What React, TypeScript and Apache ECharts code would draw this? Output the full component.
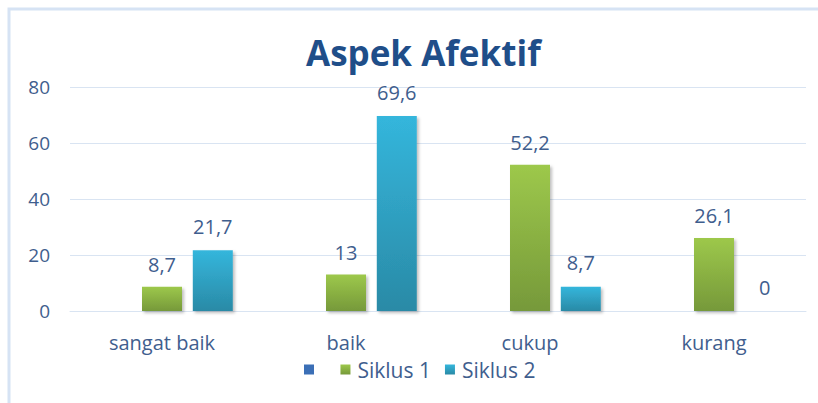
import React, { useEffect, useRef } from "react";
import * as echarts from "echarts";

const categories = ["sangat baik", "baik", "cukup", "kurang"];
const blankSeries: (number | null)[] = [null, null, null, null];
const siklus1 = [8.7, 13, 52.2, 26.1];
const siklus2 = [21.7, 69.6, 8.7, 0];
const yTicks = { min: 0, max: 80, interval: 20 };

const textColor = "#3F5E8E";

export default function App() {
  const ref = useRef<HTMLDivElement>(null);
  useEffect(() => {
    if (!ref.current) return;
    const chart = echarts.init(ref.current, undefined, { renderer: "svg" });
    const grad = (top: string, bottom: string) =>
      new echarts.graphic.LinearGradient(0, 0, 0, 1, [
        { offset: 0, color: top },
        { offset: 1, color: bottom },
      ]);
    const fmt = (p: any) => String(p.value).replace(".", ",");
    const labelStyle = {
      show: true,
      position: "top",
      distance: 12,
      color: textColor,
      fontSize: 20,
      fontFamily: "Open Sans",
      formatter: fmt,
    };
    const shadow = {
      shadowBlur: 3,
      shadowOffsetX: 2,
      shadowOffsetY: 2,
      shadowColor: "rgba(0,0,0,0.25)",
    };
    chart.setOption({
      animation: false,
      backgroundColor: "#ffffff",
      title: {
        text: "Aspek Afektif",
        left: 301,
        top: 30,
        textStyle: {
          color: "#1F4E89",
          fontSize: 35,
          fontWeight: "bold",
          fontFamily: "Open Sans",
        },
      },
      graphic: [
        {
          type: "rect",
          shape: { x: 9, y: 9, width: 820, height: 400 },
          style: { fill: "none", stroke: "#D6E3F4", lineWidth: 3 },
          silent: true,
        },
      ],
      legend: {
        left: 299,
        top: 354,
        itemWidth: 10,
        itemHeight: 10,
        itemGap: 14,
        icon: "rect",
        textStyle: {
          color: textColor,
          fontSize: 21,
          fontFamily: "Open Sans",
          padding: [0, 0, 0, 2],
        },
        data: [" ", "Siklus 1", "Siklus 2"],
      },
      grid: { left: 70, right: 12, top: 87, bottom: 92 },
      xAxis: {
        type: "category",
        data: categories,
        axisLine: { show: true, lineStyle: { color: "#D9E4F2" } },
        axisTick: { show: false },
        axisLabel: {
          color: textColor,
          fontSize: 20,
          fontFamily: "Open Sans",
          margin: 21,
        },
      },
      yAxis: {
        type: "value",
        min: yTicks.min,
        max: yTicks.max,
        interval: yTicks.interval,
        axisLine: { show: false },
        axisTick: { show: false },
        axisLabel: {
          color: textColor,
          fontSize: 19,
          fontFamily: "Open Sans",
          margin: 20,
        },
        splitLine: { lineStyle: { color: "#D9E4F2" } },
      },
      series: [
        {
          name: " ",
          type: "bar",
          data: blankSeries,
          barWidth: 40,
          barGap: "27%",
          itemStyle: { color: "#3B6FB6" },
        },
        {
          name: "Siklus 1",
          type: "bar",
          data: siklus1,
          barWidth: 40,
          barGap: "27%",
          itemStyle: { color: grad("#9DC84B", "#76993A"), ...shadow },
          label: labelStyle,
        },
        {
          name: "Siklus 2",
          type: "bar",
          data: siklus2,
          barWidth: 40,
          barGap: "27%",
          itemStyle: { color: grad("#34B6DC", "#2A8AA6"), ...shadow },
          label: { ...labelStyle, distance: 14 },
        },
      ],
    });
    return () => chart.dispose();
  }, []);
  return (
    <div
      ref={ref}
      style={{ position: "absolute", left: 0, top: 0, width: 818, height: 403 }}
    />
  );
}
